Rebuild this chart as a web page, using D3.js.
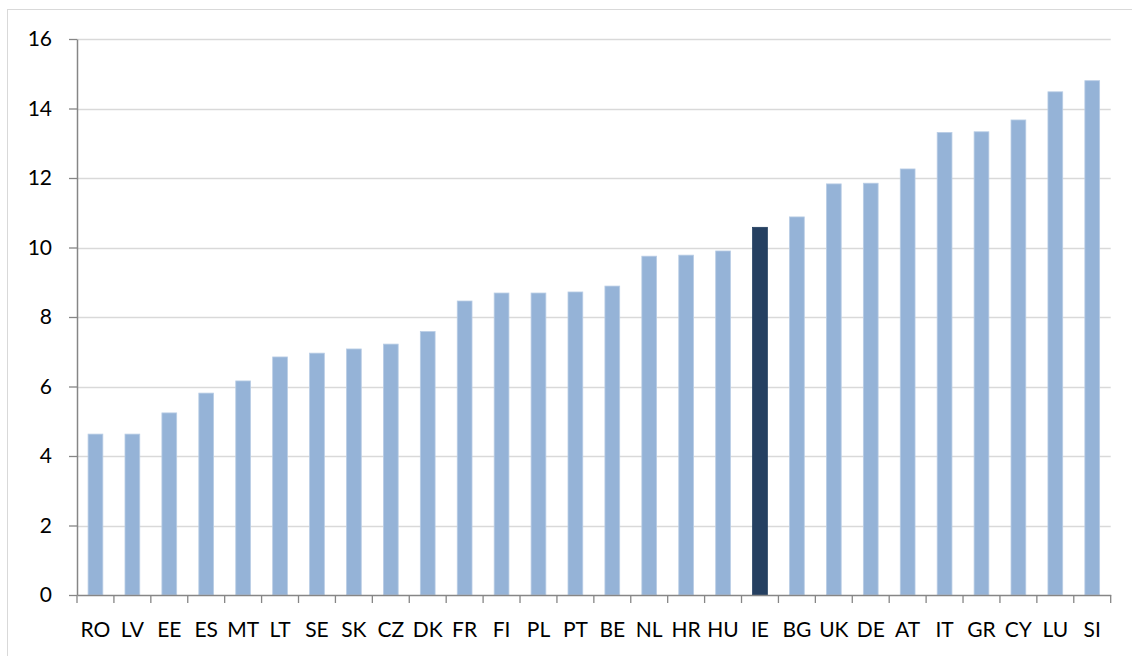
<!DOCTYPE html>
<html>
<head>
<meta charset="utf-8">
<script src="https://d3js.org/d3.v7.min.js"></script>
<style>
body { margin: 0; background: #fff; }
</style>
</head>
<body>
<script>
// countries, sorted by value
var countries = ["RO","LV","EE","ES","MT","LT","SE","SK","CZ","DK","FR","FI","PL","PT","BE",
	"NL","HR","HU","IE","BG","UK","DE","AT","IT","GR","CY","LU","SI"];
var values = [4.63,4.63,5.24,5.81,6.16,6.85,6.96,7.08,7.22,7.58,8.46,8.69,8.69,8.72,8.89,
	9.75,9.78,9.9,10.58,10.88,11.83,11.85,12.26,13.31,13.33,13.67,14.48,14.8];
var highlight = "IE";
var yTicks = [0,2,4,6,8,10,12,14,16];

function drawChart()
{
	var data = countries.map(function(c, i){ return {label: c, value: values[i]}; });

	var svg = d3.select("body")
		.append("svg")
		.attr("width", 1132)
		.attr("height", 656);

	// chart frame
	svg.append("rect")
		.attr("x", 7.5)
		.attr("y", 9.5)
		.attr("width", 1140)
		.attr("height", 660)
		.attr("fill", "none")
		.attr("stroke", "#d9d9d9")
		.attr("stroke-width", 1);

	var plotLeft = 77, plotRight = 1110.7, plotTop = 39, plotBottom = 595;

	var xScale = d3.scaleBand()
		.domain(countries)
		.range([plotLeft, plotRight])
		.paddingInner(0.6)
		.paddingOuter(0.3);

	var yScale = d3.scaleLinear()
		.domain([0, 16])
		.range([plotBottom, plotTop]);

	// gridlines
	svg.append("g")
		.selectAll("line")
		.data(yTicks.filter(function(d){ return d > 0; }))
		.enter().append("line")
		.attr("x1", plotLeft)
		.attr("x2", plotRight)
		.attr("y1", function(d){ return Math.round(yScale(d)) + 0.5; })
		.attr("y2", function(d){ return Math.round(yScale(d)) + 0.5; })
		.attr("stroke", "#d9d9d9")
		.attr("stroke-width", 1.5);

	// bars
	svg.append("g")
		.selectAll("rect")
		.data(data)
		.enter().append("rect")
		.attr("x", function(d){ return xScale(d.label); })
		.attr("y", function(d){ return yScale(d.value); })
		.attr("width", xScale.bandwidth())
		.attr("height", function(d){ return plotBottom - yScale(d.value); })
		.attr("fill", function(d){ return d.label == highlight ? "#254061" : "#95b3d7"; })
		.attr("stroke", function(d){ return d.label == highlight ? "#254061" : "#b9cde5"; })
		.attr("stroke-width", 0.8);

	// y axis
	var yAxis = svg.append("g")
		.attr("transform", "translate(" + plotLeft + ",0)")
		.call(d3.axisLeft(yScale).tickValues(yTicks).tickSize(8).tickPadding(17).tickSizeOuter(0));

	// x axis
	var step = xScale.step();
	var xAxis = svg.append("g")
		.attr("transform", "translate(0," + plotBottom + ")")
		.call(d3.axisBottom(xScale).tickSize(0).tickPadding(27).tickSizeOuter(0));

	// category separator ticks
	xAxis.selectAll("line.sep")
		.data(d3.range(countries.length + 1))
		.enter().append("line")
		.attr("class", "sep")
		.attr("x1", function(i){ return plotLeft + i * step; })
		.attr("x2", function(i){ return plotLeft + i * step; })
		.attr("y1", 0)
		.attr("y2", 8)
		.attr("stroke", "#868686")
		.attr("stroke-width", 1.3);

	svg.selectAll(".domain")
		.attr("stroke", "#868686")
		.attr("stroke-width", 1.5);
	yAxis.selectAll(".tick line")
		.attr("stroke", "#868686")
		.attr("stroke-width", 1.3);

	svg.selectAll(".tick text")
		.attr("font-family", "Lato, 'Open Sans', sans-serif")
		.attr("font-size", 21)
		.attr("fill", "#000");
}

drawChart();
</script>
</body>
</html>
